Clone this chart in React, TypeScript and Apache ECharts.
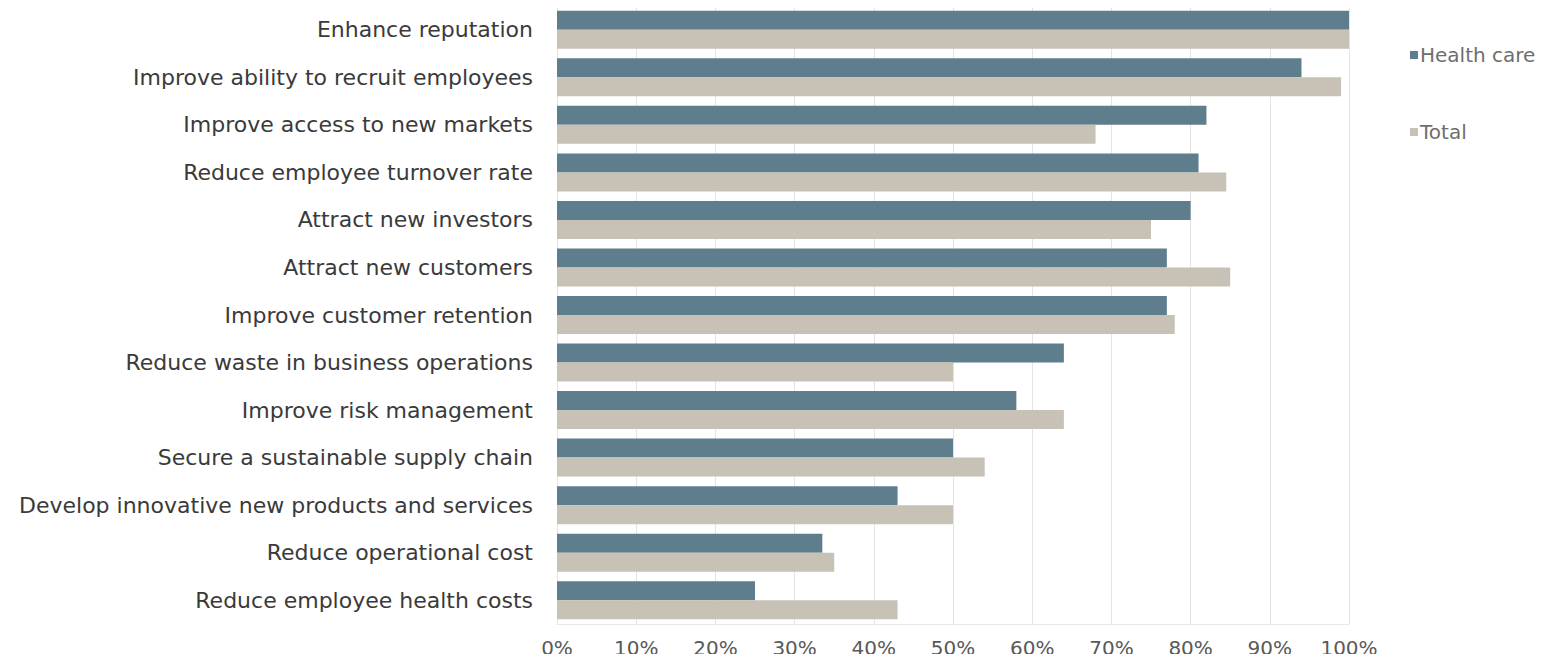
import React, { useEffect, useRef } from "react";
import * as echarts from "echarts";

const categories = [
  "Enhance reputation",
  "Improve ability to recruit employees",
  "Improve access to new markets",
  "Reduce employee turnover rate",
  "Attract new investors",
  "Attract new customers",
  "Improve customer retention",
  "Reduce waste in business operations",
  "Improve risk management",
  "Secure a sustainable supply chain",
  "Develop innovative new products and services",
  "Reduce operational cost",
  "Reduce employee health costs",
];

const healthCare = [100, 94, 82, 81, 80, 77, 77, 64, 58, 50, 43, 33.5, 25];
const total = [100, 99, 68, 84.5, 75, 85, 78, 50, 64, 54, 50, 35, 43];

const xTicks = [0, 10, 20, 30, 40, 50, 60, 70, 80, 90, 100];

export default function App() {
  const ref = useRef<HTMLDivElement>(null);
  useEffect(() => {
    if (!ref.current) return;
    const chart = echarts.init(ref.current, undefined, { renderer: "svg" });
    chart.setOption({
      animation: false,
      backgroundColor: "#ffffff",
      textStyle: { fontFamily: "DejaVu Sans, sans-serif" },
      legend: {
        orient: "vertical",
        left: 1405,
        top: 40,
        itemGap: 57,
        itemWidth: 8,
        itemHeight: 8,
        icon: "rect",
        textStyle: { fontSize: 20, color: "#6e6e6e", padding: [0, 0, 0, -3] },
        data: ["Health care", "Total"],
      },
      grid: { left: 557, right: 196, top: 6, height: 618, containLabel: false },
      xAxis: {
        type: "value",
        min: xTicks[0],
        max: xTicks[xTicks.length - 1],
        interval: 10,
        axisLabel: {
          formatter: (v: number) => `${v}%`,
          fontSize: 20,
          color: "#595959",
          margin: 14,
        },
        axisLine: { show: true, lineStyle: { color: "#e8e8e8" } },
        axisTick: { show: false },
        splitLine: { show: true, lineStyle: { color: "#e4e4e4" } },
      },
      yAxis: {
        type: "category",
        data: categories,
        inverse: true,
        axisLabel: { fontSize: 22, color: "#3a3a3a", margin: 24 },
        axisLine: { show: true, lineStyle: { color: "#e4e4e4" } },
        axisTick: { show: false },
      },
      series: [
        {
          name: "Health care",
          type: "bar",
          data: healthCare,
          barWidth: 19,
          barGap: "0%",
          itemStyle: { color: "#5f7e8d" },
        },
        {
          name: "Total",
          type: "bar",
          data: total,
          barWidth: 19,
          barGap: "0%",
          itemStyle: { color: "#c8c1b6" },
        },
      ],
    });
    return () => chart.dispose();
  }, []);
  return <div ref={ref} style={{ width: 1545, height: 662, margin: -8 }} />;
}
